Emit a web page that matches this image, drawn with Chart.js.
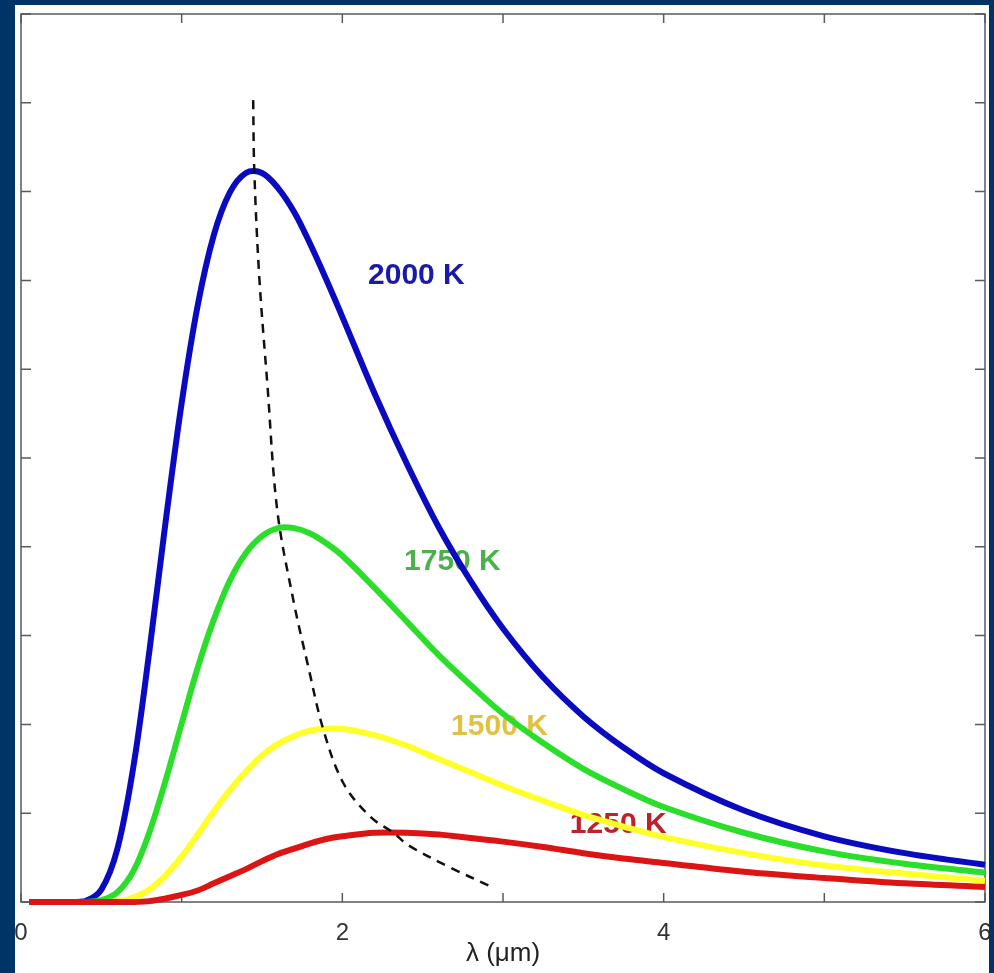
<!DOCTYPE html>
<html lang="en">
<head>
    <meta charset="UTF-8">
    <title>Blackbody spectra</title>

    <script src="https://cdn.jsdelivr.net/npm/chart.js"></script>

    <style>
        body { margin: 0; background: #003366; width: 994px; height: 973px; overflow: hidden; }
        #sheet { position: absolute; left: 15px; top: 5px; width: 974px; height: 968px; background: #ffffff; }
        canvas { display: block; }
    </style>
</head>
<body>

<div id="sheet">
    <canvas id="planck_chart" width="974" height="968"></canvas>
</div>

<script>
    // wavelength (um) and spectral radiance (arbitrary units)
    var wavelengths = [0.05, 0.1, 0.2, 0.3, 0.4, 0.5, 0.6, 0.7, 0.8, 0.9, 1.0,
                       1.1, 1.2, 1.3, 1.4, 1.5, 1.6, 1.7, 1.8, 1.9, 2.0,
                       2.2, 2.4, 2.6, 2.8, 3.0, 3.25, 3.5, 3.75, 4.0, 4.5, 5.0, 5.5, 6.0];

    var t2000 = [0, 0, 0, 0, 0.01, 0.14, 0.60, 1.53, 2.84, 4.28, 5.62,
                 6.72, 7.51, 7.99, 8.21, 8.21, 8.04, 7.77, 7.41, 7.01, 6.59,
                 5.73, 4.94, 4.22, 3.61, 3.08, 2.53, 2.09, 1.74, 1.45, 1.03, 0.74, 0.55, 0.42];

    var t1750 = [0, 0, 0, 0, 0, 0.02, 0.11, 0.35, 0.79, 1.37, 2.01,
                 2.64, 3.18, 3.62, 3.93, 4.12, 4.21, 4.21, 4.15, 4.04, 3.90,
                 3.54, 3.16, 2.78, 2.44, 2.12, 1.79, 1.50, 1.27, 1.07, 0.78, 0.57, 0.43, 0.33];

    var t1500 = [0, 0, 0, 0, 0, 0, 0.01, 0.05, 0.14, 0.30, 0.51,
                 0.76, 1.02, 1.26, 1.47, 1.65, 1.78, 1.87, 1.93, 1.95, 1.95,
                 1.88, 1.76, 1.61, 1.46, 1.31, 1.14, 0.98, 0.85, 0.73, 0.55, 0.41, 0.32, 0.24];

    var t1250 = [0, 0, 0, 0, 0, 0, 0, 0, 0.01, 0.04, 0.08,
                 0.13, 0.21, 0.29, 0.37, 0.46, 0.54, 0.60, 0.66, 0.71, 0.74,
                 0.78, 0.78, 0.76, 0.72, 0.68, 0.62, 0.55, 0.49, 0.44, 0.34, 0.27, 0.21, 0.17];

    // peak locus (dashed)
    var peakX = [1.445, 1.452, 1.483, 1.533, 1.595, 1.695, 1.788, 1.882, 2.006, 2.174, 2.318, 2.41, 2.67, 2.93];
    var peakY = [9.03, 8.24, 7.04, 5.84, 4.41, 3.40, 2.65, 1.94, 1.34, 0.96, 0.78, 0.64, 0.39, 0.17];

    var curveNames = ['2000 K', '1750 K', '1500 K', '1250 K'];

    function pts(xs, ys) {
        return xs.map(function (x, i) { return { x: x, y: ys[i] }; });
    }

    // frame, inward ticks and the curve names, drawn under the lines
    var framePlugin = {
        id: 'frame',
        beforeDatasetsDraw: function (chart) {
            var ctx = chart.ctx, a = chart.chartArea;
            var xs = chart.scales.x, ys = chart.scales.y;
            ctx.save();
            ctx.strokeStyle = '#5a5a5a';
            ctx.lineWidth = 1.5;
            ctx.strokeRect(a.left, a.top, a.right - a.left, a.bottom - a.top);
            ctx.beginPath();
            xs.ticks.forEach(function (t) {
                var px = xs.getPixelForValue(t.value);
                ctx.moveTo(px, a.bottom); ctx.lineTo(px, a.bottom - 9);
                ctx.moveTo(px, a.top); ctx.lineTo(px, a.top + 9);
            });
            ys.ticks.forEach(function (t) {
                var py = ys.getPixelForValue(t.value);
                ctx.moveTo(a.left, py); ctx.lineTo(a.left + 10, py);
                ctx.moveTo(a.right, py); ctx.lineTo(a.right - 10, py);
            });
            ctx.stroke();

            var spots = [
                { x: 2.461, y: 7.05, c: '#1a1aa8' },
                { x: 2.685, y: 3.83, c: '#4cb04c' },
                { x: 2.978, y: 1.97, c: '#e2c040' },
                { x: 3.717, y: 0.87, c: '#c0202a' }
            ];
            ctx.font = 'bold 30px "Liberation Sans", Arial, sans-serif';
            ctx.textAlign = 'center';
            ctx.textBaseline = 'middle';
            spots.forEach(function (s, i) {
                ctx.fillStyle = s.c;
                ctx.fillText(curveNames[i], xs.getPixelForValue(s.x), ys.getPixelForValue(s.y));
            });
            ctx.restore();
        }
    };

    function curve(label, data, color, order) {
        return {
            label: label,
            data: pts(wavelengths, data),
            borderColor: color,
            borderWidth: 6,
            pointRadius: 0,
            fill: false,
            tension: 0.35,
            clip: false,
            order: order
        };
    }

    new Chart(document.getElementById('planck_chart'), {
        type: 'line',
        data: {
            datasets: [
                {
                    label: 'peak',
                    data: pts(peakX, peakY),
                    borderColor: '#111111',
                    borderWidth: 2.5,
                    borderDash: [9, 7],
                    pointRadius: 0,
                    fill: false,
                    tension: 0.35,
                    clip: false,
                    order: 0
                },
                curve(curveNames[3], t1250, '#dd1414', 1),
                curve(curveNames[2], t1500, '#ffff2a', 2),
                curve(curveNames[1], t1750, '#2ade2a', 3),
                curve(curveNames[0], t2000, '#0a0ac0', 4)
            ]
        },
        options: {
            responsive: false,
            animation: false,
            layout: { padding: { left: 6, top: 9, right: 4, bottom: 0 } },
            plugins: { legend: { display: false }, tooltip: { enabled: false } },
            scales: {
                x: {
                    type: 'linear',
                    min: 0,
                    max: 6,
                    grid: { display: false, drawTicks: false },
                    border: { display: false },
                    ticks: {
                        stepSize: 1,
                        autoSkip: false,
                        maxRotation: 0,
                        padding: 17,
                        color: '#333333',
                        font: { family: 'Liberation Sans', size: 24 },
                        callback: function (v) { return v % 2 === 0 ? String(v) : ''; }
                    },
                    title: {
                        display: true,
                        text: 'λ (μm)',
                        color: '#222222',
                        font: { family: 'Liberation Sans', size: 26 },
                        padding: { top: 0, bottom: 4 }
                    },
                    afterFit: function (s) { s.height = 71; s.paddingLeft = 0; s.paddingRight = 0; }
                },
                y: {
                    min: 0,
                    max: 10,
                    grid: { display: false, drawTicks: false },
                    border: { display: false },
                    ticks: { display: false, stepSize: 1 },
                    afterFit: function (s) { s.width = 0; }
                }
            }
        },
        plugins: [framePlugin]
    });
</script>
</body>
</html>
